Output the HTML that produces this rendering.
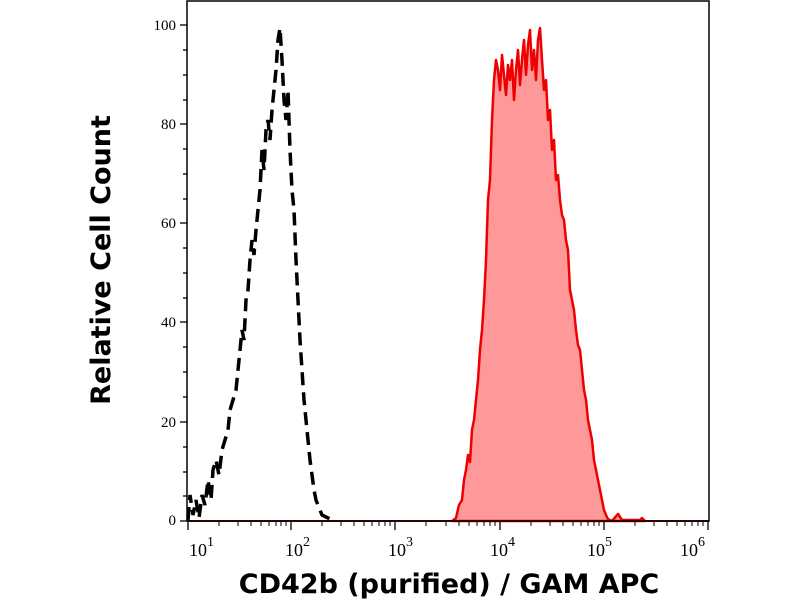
<!DOCTYPE html>
<html><head><meta charset="utf-8"><style>
html,body{margin:0;padding:0;background:#fff;}
svg{display:block;}
</style></head><body>
<svg width="800" height="600" xmlns="http://www.w3.org/2000/svg">
<rect width="800" height="600" fill="#fff"/>
<path d="M452,521 L456,518 L459,505 L462,500 L464,480 L466,470 L468,455 L470,462 L472,430 L474,420 L476,400 L478,380 L480,350 L482,330 L484,300 L486,260 L488,200 L490,180 L492,120 L494,80 L496,60 L498,70 L500,90 L502,55 L504,75 L506,95 L508,65 L510,80 L512,60 L514,100 L516,70 L518,50 L520,85 L522,60 L524,40 L526,75 L528,45 L530,30 L532,70 L534,50 L536,80 L538,40 L540,28 L542,60 L544,90 L546,80 L548,120 L550,110 L552,150 L554,140 L556,180 L558,175 L560,200 L562,215 L564,220 L566,240 L568,250 L570,290 L572,300 L574,310 L576,330 L578,345 L580,350 L582,370 L584,390 L586,400 L588,420 L590,430 L592,440 L594,460 L596,470 L598,480 L600,490 L602,500 L604,510 L606,515 L608,519 L612,521 L618,514 L622,520 L640,520 L642,518 L645,521 Z" fill="#f99" stroke="#e00" stroke-width="2.5" stroke-linejoin="round"/>
<line x1="187" y1="521" x2="709" y2="521" stroke="#c00" stroke-width="2"/>
<path d="M188,520 L190,495 L193,515 L196,500 L199,518 L202,495 L205,505 L208,480 L211,500 L213,470 L216,460 L219,475 L222,450 L225,440 L228,430 L230,410 L233,400 L236,390 L238,370 L240,350 L242,330 L244,340 L246,300 L248,290 L250,260 L252,240 L254,255 L256,230 L258,210 L260,190 L262,150 L264,170 L266,130 L268,120 L270,140 L272,110 L274,90 L276,70 L278,40 L280,28 L282,60 L284,100 L286,120 L288,90 L290,150 L292,190 L294,210 L296,260 L298,300 L300,340 L302,370 L304,400 L306,420 L308,440 L310,460 L312,475 L314,490 L316,500 L318,505 L322,515 L328,518 L334,521" fill="none" stroke="#000" stroke-width="3.5" stroke-dasharray="13,7"/>
<rect x="187" y="1" width="522" height="520" fill="none" stroke="#000" stroke-width="1.5"/>
<g stroke="#000" stroke-width="1.3">
<line x1="180" y1="25" x2="187" y2="25"/><line x1="180" y1="124" x2="187" y2="124"/><line x1="180" y1="223" x2="187" y2="223"/><line x1="180" y1="322" x2="187" y2="322"/><line x1="180" y1="422" x2="187" y2="422"/><line x1="180" y1="521" x2="187" y2="521"/>
<line x1="183" y1="50" x2="187" y2="50"/><line x1="183" y1="75" x2="187" y2="75"/><line x1="183" y1="100" x2="187" y2="100"/>
<line x1="183" y1="149" x2="187" y2="149"/><line x1="183" y1="174" x2="187" y2="174"/><line x1="183" y1="199" x2="187" y2="199"/>
<line x1="183" y1="248" x2="187" y2="248"/><line x1="183" y1="273" x2="187" y2="273"/><line x1="183" y1="298" x2="187" y2="298"/>
<line x1="183" y1="347" x2="187" y2="347"/><line x1="183" y1="372" x2="187" y2="372"/><line x1="183" y1="397" x2="187" y2="397"/>
<line x1="183" y1="447" x2="187" y2="447"/><line x1="183" y1="472" x2="187" y2="472"/><line x1="183" y1="496" x2="187" y2="496"/>
</g>
<g stroke="#000" stroke-width="1.3">
<line x1="188" y1="521" x2="188" y2="530"/><line x1="291" y1="521" x2="291" y2="530"/><line x1="395" y1="521" x2="395" y2="530"/><line x1="500" y1="521" x2="500" y2="530"/><line x1="604" y1="521" x2="604" y2="530"/><line x1="708" y1="521" x2="708" y2="530"/>
</g>
<g stroke="#000" stroke-width="1">
<path d="M219,521v5M238,521v5M251,521v5M261,521v5M269,521v5M276,521v5M281,521v5M286,521v5
M322,521v5M341,521v5M354,521v5M364,521v5M372,521v5M379,521v5M385,521v5M390,521v5
M426,521v5M446,521v5M459,521v5M469,521v5M477,521v5M484,521v5M490,521v5M495,521v5
M531,521v5M550,521v5M563,521v5M573,521v5M581,521v5M588,521v5M594,521v5M599,521v5
M635,521v5M654,521v5M667,521v5M677,521v5M685,521v5M692,521v5M698,521v5M703,521v5"/>
</g>
<g font-family="Liberation Serif, serif" font-size="15" fill="#000" text-anchor="end">
<text x="176" y="30">100</text><text x="176" y="129">80</text><text x="176" y="228">60</text><text x="176" y="327">40</text><text x="176" y="427">20</text><text x="176" y="525">0</text>
</g>
<g font-family="Liberation Serif, serif" font-size="18" fill="#000">
<text x="189" y="556">10<tspan font-size="14" dy="-10">1</tspan></text>
<text x="285" y="556">10<tspan font-size="14" dy="-10">2</tspan></text>
<text x="388" y="556">10<tspan font-size="14" dy="-10">3</tspan></text>
<text x="490" y="556">10<tspan font-size="14" dy="-10">4</tspan></text>
<text x="587" y="556">10<tspan font-size="14" dy="-10">5</tspan></text>
<text x="680" y="556">10<tspan font-size="14" dy="-10">6</tspan></text>
</g>
<text x="449" y="593" font-family="DejaVu Sans, sans-serif" font-weight="bold" font-size="27" text-anchor="middle">CD42b (purified) / GAM APC</text>
<text transform="translate(110,260) rotate(-90)" font-family="DejaVu Sans, sans-serif" font-weight="bold" font-size="27" text-anchor="middle">Relative Cell Count</text>
</svg>
</body></html>
